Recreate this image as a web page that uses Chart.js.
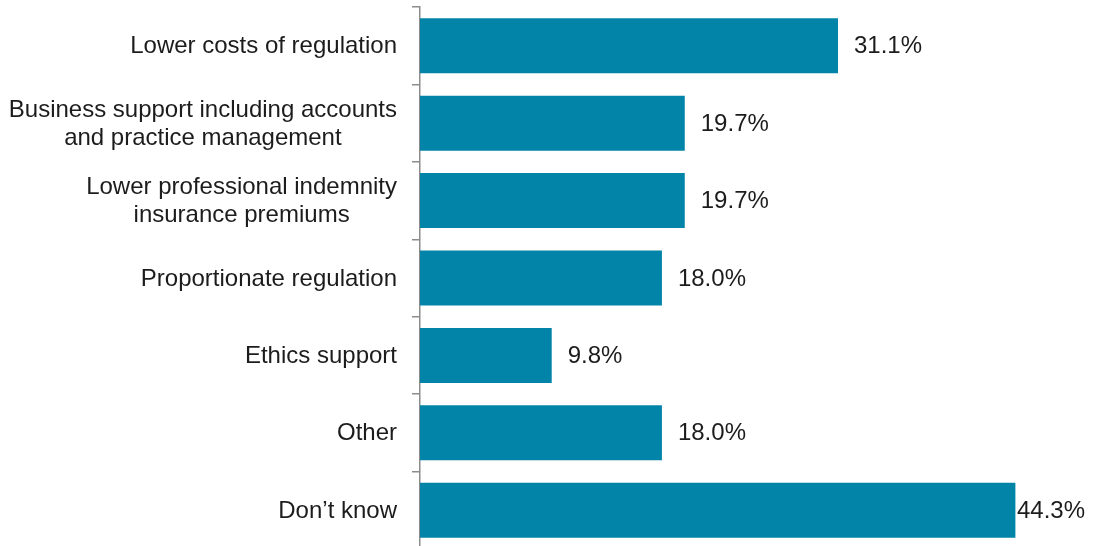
<!DOCTYPE html>
<html>
<head>
<meta charset="utf-8">
<script src="https://cdn.jsdelivr.net/npm/chart.js@4/dist/chart.umd.min.js"></script>
<style>
  html, body { margin: 0; padding: 0; background: #fff; overflow: hidden; }
  #wrap { position: relative; width: 1096px; height: 552px; }
</style>
</head>
<body>
<div id="wrap"><canvas id="chart"></canvas></div>
<script>
const categories = [
    ['Lower costs of regulation'],
    ['Business support including accounts', 'and practice management'],
    ['Lower professional indemnity', 'insurance premiums'],
    ['Proportionate regulation'],
    ['Ethics support'],
    ['Other'],
    ['Don\u2019t know']
];
const shares = [31.1, 19.7, 19.7, 18.0, 9.8, 18.0, 44.3];

const FONT = '24px "Liberation Sans", Arial, sans-serif';
const TEXT_COLOR = '#1c1c1c';
const BAR_COLOR = '#0284a9';
const AXIS_COLOR = '#8c8c8c';

// category names: each block is centred on itself, block right edge sits left of the axis
const categoryLabels = {
    id: 'categoryLabels',
    afterDraw(chart) {
        const ctx = chart.ctx;
        const yScale = chart.scales.y;
        const rightEdge = chart.chartArea.left - 23;
        const lineHeight = 28;
        ctx.save();
        ctx.font = FONT;
        ctx.fillStyle = TEXT_COLOR;
        ctx.textAlign = 'center';
        ctx.textBaseline = 'middle';
        categories.forEach((lines, i) => {
            const y = yScale.getPixelForTick(i);
            const blockW = Math.max(...lines.map(l => ctx.measureText(l).width));
            const cx = rightEdge - blockW / 2;
            const top = y - (lines.length - 1) * lineHeight / 2;
            lines.forEach((l, j) => ctx.fillText(l, cx, top + j * lineHeight + 1));
        });
        ctx.restore();
    }
};

// percentage next to each bar, pulled back in if it would run off the right
const valueLabels = {
    id: 'valueLabels',
    afterDatasetsDraw(chart) {
        const ctx = chart.ctx;
        const meta = chart.getDatasetMeta(0);
        ctx.save();
        ctx.font = FONT;
        ctx.fillStyle = TEXT_COLOR;
        ctx.textAlign = 'left';
        ctx.textBaseline = 'middle';
        meta.data.forEach((bar, i) => {
            const text = shares[i].toFixed(1) + '%';
            const w = ctx.measureText(text).width;
            const x = Math.min(bar.x + 16, chart.width - 11 - w);
            ctx.fillText(text, x, bar.y + 1);
        });
        ctx.restore();
    }
};

new Chart(document.getElementById('chart'), {
    type: 'bar',
    data: {
        labels: categories,
        datasets: [{
            data: shares,
            backgroundColor: BAR_COLOR,
            borderWidth: 0,
            barPercentage: 0.71,
            categoryPercentage: 1
        }]
    },
    options: {
        indexAxis: 'y',
        responsive: true,
        maintainAspectRatio: false,
        animation: false,
        layout: { padding: { top: 7, bottom: 3, left: 0, right: 4 } },
        plugins: { legend: { display: false }, tooltip: { enabled: false } },
        scales: {
            x: { display: false, min: 0, max: 50 },
            y: {
                afterFit: (scale) => { scale.width = 420; },
                grid: {
                    offset: true,
                    drawOnChartArea: false,
                    drawTicks: true,
                    tickLength: 8,
                    color: AXIS_COLOR,
                    lineWidth: 1.5
                },
                border: { display: true, color: AXIS_COLOR, width: 1.5 },
                ticks: { display: false }
            }
        }
    },
    plugins: [categoryLabels, valueLabels]
});
</script>
</body>
</html>
